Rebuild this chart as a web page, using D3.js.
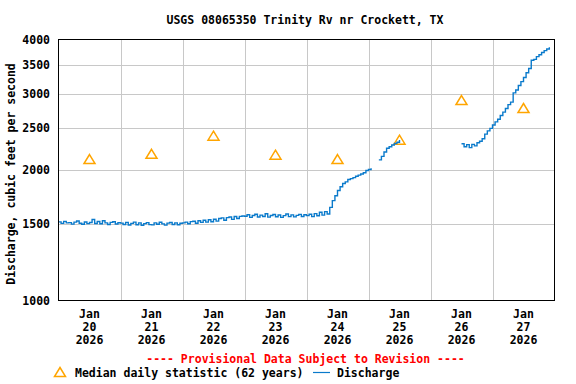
<!DOCTYPE html>
<html>
<head>
<meta charset="utf-8">
<script src="https://cdn.jsdelivr.net/npm/d3@7"></script>
<style>
  body { margin: 0; background: #fff; }
  svg { display: block; }
</style>
</head>
<body>
<svg id="chart" width="576" height="384"></svg>
<script>
const fontFamily = "'DejaVu Sans Mono', 'Liberation Mono', monospace";

// Chart values
const title = "USGS 08065350 Trinity Rv nr Crockett, TX";
const yLabel = "Discharge, cubic feet per second";
const yTicks = [1000, 1500, 2000, 2500, 3000, 3500, 4000];
const yGrid = [1500, 2000, 2500, 3000, 3500];
const dayLabels = ["20", "21", "22", "23", "24", "25", "26", "27"];
const startTime = new Date(2026, 0, 20);

// Median daily statistic (62 years), one per day at noon
const medianValues = [2120, 2180, 2400, 2170, 2120, 2350, 2900, 2780];

// Hourly discharge, cfs, starting Jan 20 00:00 (null = no data)
const q20 = [1518, 1506, 1522, 1510, 1512, 1500, 1516, 1526, 1507, 1499, 1517, 1504, 1513, 1538, 1505, 1521, 1503, 1527, 1510, 1497, 1514, 1519, 1501, 1511];
const q21 = [1508, 1497, 1514, 1493, 1506, 1516, 1495, 1510, 1491, 1504, 1512, 1496, 1494, 1510, 1499, 1515, 1502, 1492, 1508, 1513, 1497, 1510, 1495, 1507];
const q22 = [1510, 1516, 1503, 1520, 1523, 1507, 1527, 1514, 1531, 1516, 1535, 1519, 1540, 1524, 1546, 1551, 1532, 1553, 1558, 1539, 1562, 1546, 1563, 1566];
const q23 = [1565, 1577, 1555, 1571, 1581, 1558, 1574, 1562, 1585, 1557, 1571, 1579, 1560, 1575, 1555, 1570, 1583, 1561, 1576, 1559, 1572, 1580, 1562, 1577];
const q24 = [1570, 1581, 1561, 1586, 1569, 1598, 1574, 1603, 1583, 1640, 1700, 1745, 1794, 1830, 1861, 1878, 1901, 1910, 1921, 1934, 1946, 1958, 1971, 1994];
const q25 = [2005, 2019, null, null, 2110, 2150, 2200, 2245, 2262, 2284, 2302, 2318, 2345, null, null, null, null, null, null, null, null, null, null, null];
const q26 = [null, null, null, null, null, null, null, null, null, null, null, null, 2300, 2262, 2288, 2252, 2292, 2274, 2312, 2330, 2362, 2420, 2462, 2495];
const q27 = [2540, 2582, 2618, 2672, 2720, 2772, 2830, 2868, 3012, 3058, 3132, 3198, 3270, 3352, 3430, 3582, 3600, 3652, 3688, 3732, 3770, 3802, 3840, null];
const discharge = [].concat(q20, q21, q22, q23, q24, q25, q26, q27);

// Dimensions
const svg = d3.select("#chart");
const margin = { left: 58.5, right: 554.5, top: 39.5, bottom: 300.5 };

const x = d3.scaleTime()
  .domain([startTime, d3.timeDay.offset(startTime, 8)])
  .range([margin.left, margin.right]);

const y = d3.scaleLog()
  .domain([1000, 4000])
  .range([margin.bottom, margin.top]);

// Grid lines
const grid = svg.append("g").attr("stroke", "#c8c8c8").attr("stroke-width", 1);
grid.selectAll("line.h")
  .data(yGrid)
  .enter()
  .append("line")
  .attr("x1", margin.left)
  .attr("x2", margin.right)
  .attr("y1", d => Math.round(y(d)) + 0.5)
  .attr("y2", d => Math.round(y(d)) + 0.5);

grid.selectAll("line.v")
  .data(d3.range(1, 8).map(i => d3.timeDay.offset(startTime, i)))
  .enter()
  .append("line")
  .attr("x1", d => Math.round(x(d)) + 0.5)
  .attr("x2", d => Math.round(x(d)) + 0.5)
  .attr("y1", margin.top)
  .attr("y2", margin.bottom);

// Median triangles
const tri = "M0,-4.5L5.5,4.5L-5.5,4.5Z";
svg.append("g")
  .selectAll("path")
  .data(medianValues)
  .enter()
  .append("path")
  .attr("d", tri)
  .attr("transform", (d, i) => `translate(${x(d3.timeHour.offset(startTime, i * 24 + 12))},${y(d)})`)
  .attr("fill", "none")
  .attr("stroke", "#ffa500")
  .attr("stroke-width", 1.5);

// Discharge line (stepped, like the gauge record)
const line = d3.line()
  .defined(d => d != null)
  .curve(d3.curveStepAfter)
  .x((d, i) => x(d3.timeHour.offset(startTime, i)))
  .y(d => y(d));

svg.append("path")
  .datum(discharge)
  .attr("d", line)
  .attr("fill", "none")
  .attr("stroke", "#0a7acb")
  .attr("stroke-width", 1.4);

// Frame
svg.append("rect")
  .attr("x", margin.left)
  .attr("y", margin.top)
  .attr("width", margin.right - margin.left)
  .attr("height", margin.bottom - margin.top)
  .attr("fill", "none")
  .attr("stroke", "#000")
  .attr("stroke-width", 1);

// Y tick labels
svg.append("g")
  .selectAll("text")
  .data(yTicks)
  .enter()
  .append("text")
  .attr("x", 50)
  .attr("y", d => y(d) + 4)
  .attr("text-anchor", "end")
  .attr("font-family", fontFamily)
  .attr("font-size", "11.5px")
  .attr("font-weight", "700")
  .text(d => d);

// X tick labels (three lines at noon of each day)
const xl = svg.append("g")
  .selectAll("text")
  .data(dayLabels)
  .enter()
  .append("text")
  .attr("text-anchor", "middle")
  .attr("font-family", fontFamily)
  .attr("font-size", "11.5px")
  .attr("font-weight", "700");

[["Jan", 318], [null, 331], ["2026", 344]].forEach(([t, yy]) => {
  xl.append("tspan")
    .attr("x", (d, i) => x(d3.timeHour.offset(startTime, i * 24 + 12)))
    .attr("y", yy)
    .text(d => t || d);
});

// Title
svg.append("text")
  .attr("x", 305)
  .attr("y", 24)
  .attr("text-anchor", "middle")
  .attr("font-family", fontFamily)
  .attr("font-size", "11.5px")
  .attr("font-weight", "700")
  .text(title);

// Y axis title
svg.append("text")
  .attr("transform", "translate(15,174) rotate(-90)")
  .attr("text-anchor", "middle")
  .attr("font-family", fontFamily)
  .attr("font-size", "11.5px")
  .attr("font-weight", "700")
  .text(yLabel);

// Provisional note
svg.append("text")
  .attr("x", 305.5)
  .attr("y", 363)
  .attr("text-anchor", "middle")
  .attr("font-family", fontFamily)
  .attr("font-size", "11.5px")
  .attr("font-weight", "700")
  .attr("fill", "#ff0000")
  .text("---- Provisional Data Subject to Revision ----");

// Legend
svg.append("path")
  .attr("d", tri)
  .attr("transform", "translate(60,372)")
  .attr("fill", "none")
  .attr("stroke", "#ffa500")
  .attr("stroke-width", 1.5);

svg.append("text")
  .attr("x", 75)
  .attr("y", 377)
  .attr("font-family", fontFamily)
  .attr("font-size", "11.5px")
  .attr("font-weight", "700")
  .text("Median daily statistic (62 years)");

svg.append("line")
  .attr("x1", 313)
  .attr("x2", 330)
  .attr("y1", 372.5)
  .attr("y2", 372.5)
  .attr("stroke", "#0a7acb")
  .attr("stroke-width", 1.2);

svg.append("text")
  .attr("x", 337)
  .attr("y", 377)
  .attr("font-family", fontFamily)
  .attr("font-size", "11.5px")
  .attr("font-weight", "700")
  .text("Discharge");
</script>
</body>
</html>
